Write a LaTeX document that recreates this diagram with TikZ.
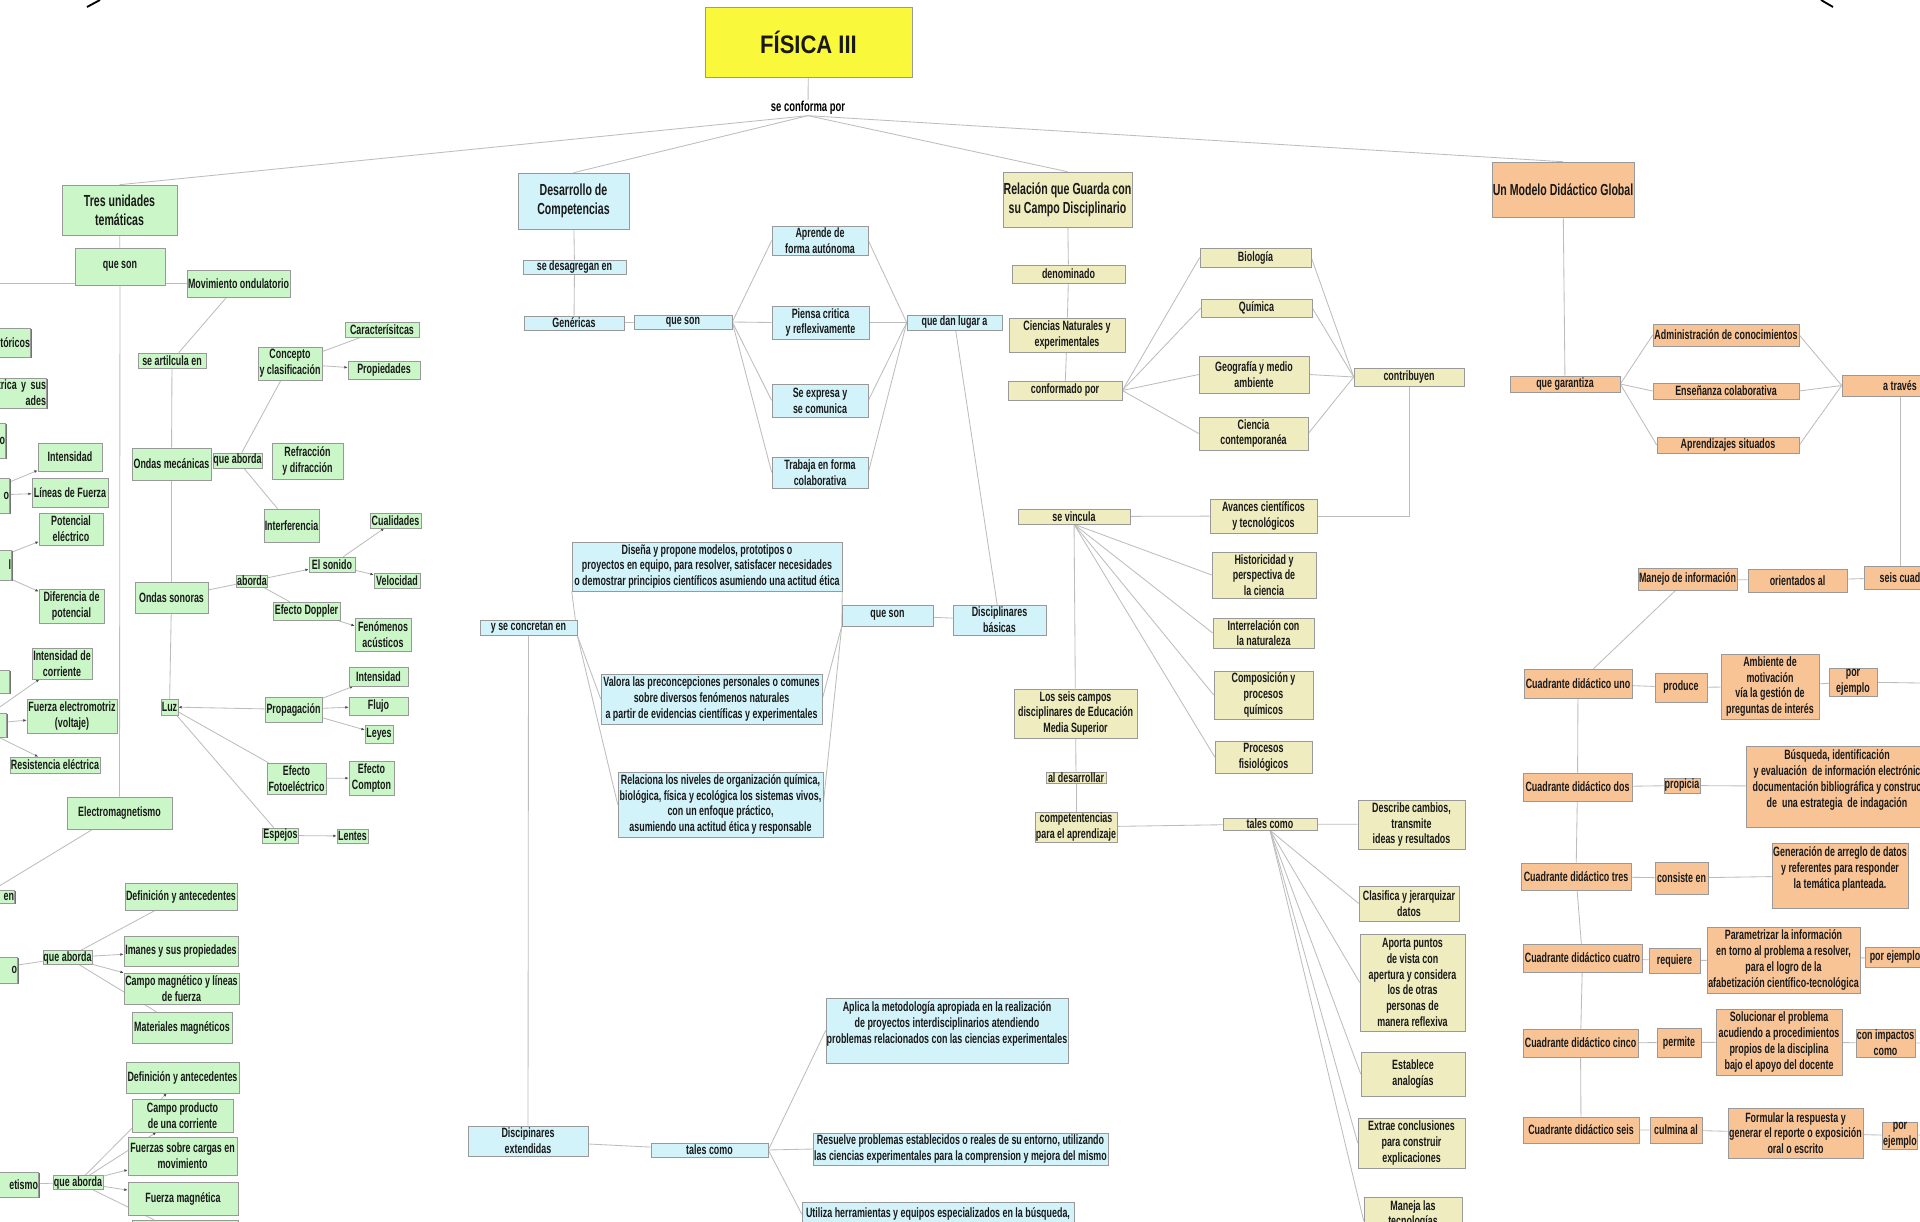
\documentclass[tikz,border=0pt]{standalone}
\usepackage{fontspec}
\setmainfont[FakeStretch=0.66]{Liberation Sans}
\newfontfamily\titlefont[FakeStretch=0.87]{Liberation Sans}
\usepackage{xcolor}
\usetikzlibrary{arrows.meta, shadows, backgrounds}
\definecolor{greenbox}{HTML}{CBF7C8}
\definecolor{bluebox}{HTML}{D3F3FA}
\definecolor{khakibox}{HTML}{EFECC0}
\definecolor{orangebox}{HTML}{F8C496}
\definecolor{titleyellow}{HTML}{FAF83A}
\definecolor{linkgray}{HTML}{BDBDBD}

\begin{document}
\begin{tikzpicture}[
            x=0.025cm, y=-0.025cm,
            box/.style={
                draw=black!40,
                rectangle,
                align=center,
                inner sep=0.5pt,
                line width=0.4pt,
                text=black!90,
                font=\bfseries\fontsize{9.6pt}{11.2pt}\selectfont,
                drop shadow={shadow xshift=0.6pt, shadow yshift=-0.6pt, fill=black!55, opacity=1}
            },
            wh/.style 2 args={minimum width=#1*0.025cm, minimum height=#2*0.025cm},
            gbox/.style={box, fill=greenbox},
            bbox/.style={box, fill=bluebox},
            kbox/.style={box, fill=khakibox},
            obox/.style={box, fill=orangebox},
            big/.style={font=\bfseries\fontsize{11.4pt}{13.5pt}\selectfont},
            titlebox/.style={box, fill=titleyellow, font=\titlefont\bfseries\fontsize{18pt}{20pt}\selectfont},
            plaintext/.style={inner sep=0.5pt, align=center, font=\bfseries\fontsize{10.2pt}{12pt}\selectfont},
            cutl/.style={anchor=east, text width=1.6cm, align=right},
            lnk/.style={draw=linkgray, line width=0.6pt},
            lnkarr/.style={lnk, -{Latex[length=2.4pt, width=2pt, color=black!70]}}
        ]
        \useasboundingbox (0,0) rectangle (1920,1222);

        \node[titlebox, wh={207}{70}] (fisica)   at (808.5,42)  {FÍSICA III};
        \node[plaintext]              (conforma) at (808,108)   {se conforma por};

        \node[gbox, big, wh={115}{50}] (tres)     at (119.5,210)  {Tres unidades\\temáticas};
        \node[gbox, wh={90}{37}]   (queson1)  at (120,266.5)  {que son};
        \node[gbox, wh={103}{27}]  (movond)   at (238.5,283.5) {Movimiento ondulatorio};
        \node[gbox, wh={68}{15}]   (seart)    at (172,360.5)  {se artilcula en};
        \node[gbox, wh={64}{33}]   (concepto) at (290,363.5)  {Concepto\\y clasificación};
        \node[gbox, wh={74}{15}]   (caract)   at (382,329.5)  {Caracterísitcas};
        \node[gbox, wh={72}{18}]   (propied)  at (384,370)    {Propiedades};
        \node[gbox, cutl, wh={0}{29}] (cuthist)  at (31,342.5) {tóricos};
        \node[gbox, cutl, wh={0}{30}] (cutcarga) at (47,393)   {trica y sus\\ades};
        \node[gbox, cutl, wh={0}{35}] (cuta)     at (6,440.5)  {o};
        \node[gbox, cutl, wh={0}{35}] (cutb)     at (10,495.5) {o};
        \node[gbox, cutl, wh={0}{30}] (cutc)     at (12,565)   {l};
        \node[gbox, cutl, wh={0}{23}] (cutd)     at (10,681.5) {};
        \node[gbox, cutl, wh={0}{24}] (cute)     at (7,725)    {};
        \node[gbox, wh={64}{28}]   (intens1)  at (70,457)     {Intensidad};
        \node[gbox, wh={76}{29}]   (lineas)   at (70,492.5)   {Líneas de Fuerza};
        \node[gbox, wh={64}{32}]   (potenc)   at (71,529)     {Potencial\\eléctrico};
        \node[gbox, wh={65}{34}]   (difer)    at (71.5,606)   {Diferencia de\\potencial};
        \node[gbox, wh={60}{31}]   (intcorr)  at (62,663.5)   {Intensidad de\\corriente};
        \node[gbox, wh={90}{34}]   (fem)      at (72,716)     {Fuerza electromotriz\\(voltaje)};
        \node[gbox, wh={90}{16}]   (resist)   at (55,765)     {Resistencia eléctrica};
        \node[gbox, wh={79}{32}]   (ondmec)   at (171.5,464)  {Ondas mecánicas};
        \node[gbox, wh={49}{15}]   (quea1)    at (237.5,460.5) {que aborda};
        \node[gbox, wh={71}{36}]   (refrac)   at (307.5,461)  {Refracción\\y difracción};
        \node[gbox, wh={55}{33}]   (interf)   at (291.5,525.5) {Interferencia};
        \node[gbox, wh={73}{31}]   (ondson)   at (171.5,597.5) {Ondas sonoras};
        \node[gbox, wh={30}{12}]   (aborda)   at (252,581)    {aborda};
        \node[gbox, wh={46}{15}]   (sonido)   at (332,564.5)  {El sonido};
        \node[gbox, wh={51}{15}]   (cualid)   at (395.5,520.5) {Cualidades};
        \node[gbox, wh={46}{15}]   (veloc)    at (397,580.5)  {Velocidad};
        \node[gbox, wh={67}{18}]   (doppler)  at (306.5,611)  {Efecto Doppler};
        \node[gbox, wh={56}{33}]   (fenom)    at (383,634.5)  {Fenómenos\\acústicos};
        \node[gbox, wh={17}{16}]   (luz)      at (169.5,707)  {Luz};
        \node[gbox, wh={57}{25}]   (propag)   at (293.5,709.5) {Propagación};
        \node[gbox, wh={59}{19}]   (intens2)  at (378.5,676.5) {Intensidad};
        \node[gbox, wh={59}{18}]   (flujo)    at (378.5,706)  {Flujo};
        \node[gbox, wh={28}{18}]   (leyes)    at (379,734)    {Leyes};
        \node[gbox, wh={59}{31}]   (fotoel)   at (296.5,778.5) {Efecto\\Fotoeléctrico};
        \node[gbox, wh={45}{34}]   (compton)  at (371.5,778)  {Efecto\\Compton};
        \node[gbox, wh={35}{15}]   (espejos)  at (280.5,835.5) {Espejos};
        \node[gbox, wh={31}{14}]   (lentes)   at (352.5,836)  {Lentes};
        \node[gbox, wh={105}{32}]  (electro)  at (119.5,813)  {Electromagnetismo};
        \node[gbox, cutl, wh={0}{13}] (cutf)     at (15,896.5) {en};
        \node[gbox, cutl, wh={0}{26}] (cutg)     at (18,970)   {o};
        \node[gbox, wh={49}{11}]   (quea2)    at (67.5,957.5) {que aborda};
        \node[gbox, wh={112}{27}]  (defant1)  at (181,896.5)  {Definición y antecedentes};
        \node[gbox, wh={114}{30}]  (imanes)   at (181,951)    {Imanes y sus propiedades};
        \node[gbox, wh={115}{31}]  (campomag) at (181.5,988.5) {Campo magnético y líneas\\de fuerza};
        \node[gbox, wh={100}{31}]  (materiales) at (182,1027.5) {Materiales magnéticos};
        \node[gbox, cutl, wh={0}{25}] (cuth)     at (39,1184.5) {etismo};
        \node[gbox, wh={50}{13}]   (quea3)    at (78,1182.5)  {que aborda};
        \node[gbox, wh={113}{31}]  (defant2)  at (182.5,1077.5) {Definición y antecedentes};
        \node[gbox, wh={101}{33}]  (campoprod) at (182.5,1115.5) {Campo producto\\de una corriente};
        \node[gbox, wh={109}{38}]  (fuerzas)  at (182.5,1156)  {Fuerzas sobre cargas en\\movimiento};
        \node[gbox, wh={110}{33}]  (fuerzamag) at (183,1198.5) {Fuerza magnética};
        \node[gbox, wh={106}{30}]  (lastg)    at (185,1235)   {};

        \node[bbox, big, wh={111}{56}] (desarr) at (573.5,201) {Desarrollo de\\Competencias};
        \node[bbox, wh={103}{14}]  (desag)    at (574.5,267)  {se desagregan en};
        \node[bbox, wh={100}{14}]  (generic)  at (574,323)    {Genéricas};
        \node[bbox, wh={98}{14}]   (queson2)  at (683,322)    {que son};
        \node[bbox, wh={96}{29}]   (aprende)  at (820,240.5)  {Aprende de\\forma autónoma};
        \node[bbox, wh={97}{33}]   (piensa)   at (820.5,322.5) {Piensa critica\\y reflexivamente};
        \node[bbox, wh={96}{33}]   (expresa)  at (820,400.5)  {Se expresa y\\se comunica};
        \node[bbox, wh={96}{31}]   (trabaja)  at (820,472.5)  {Trabaja en forma\\colaborativa};
        \node[bbox, wh={95}{15}]   (danlugar) at (954.5,322.5) {que dan lugar a};
        \node[bbox, wh={97}{15}]   (concretan) at (528.5,627.5) {y se concretan en};
        \node[bbox, wh={270}{49}]  (disena)   at (707,566.5)  {Diseña y propone modelos, prototipos o\\proyectos en equipo, para resolver, satisfacer necesidades\\o demostrar principios científicos asumiendo una actitud ética};
        \node[bbox, wh={91}{21}]   (queson3)  at (887.5,615.5) {que son};
        \node[bbox, wh={93}{30}]   (discbas)  at (999.5,620)  {Disciplinares\\básicas};
        \node[bbox, wh={221}{50}]  (valora)   at (711.5,699)  {Valora las preconcepciones personales o comunes\\sobre diversos fenómenos naturales\\a partir de evidencias científicas y experimentales};
        \node[bbox, wh={205}{65}]  (relaciona) at (720.5,804.5) {Relaciona los niveles de organización química,\\biológica, física y ecológica los sistemas vivos,\\con un enfoque práctico,\\asumiendo una actitud ética y responsable};
        \node[bbox, wh={120}{30}]  (discext)  at (528,1141)   {Discipinares\\extendidas};
        \node[bbox, wh={117}{14}]  (tales1)   at (709.5,1150) {tales como};
        \node[bbox, wh={242}{65}]  (aplica)   at (947,1030.5) {Aplica la metodología apropiada en la realización\\de proyectos interdisciplinarios atendiendo\\problemas relacionados con las ciencias experimentales\\\mbox{}};
        \node[bbox, wh={295}{32}]  (resuelve) at (960.5,1149) {Resuelve problemas establecidos o reales de su entorno, utilizando\\las ciencias experimentales para la comprension y mejora del mismo};
        \node[bbox, wh={272}{24}]  (utiliza)  at (938,1214)   {Utiliza herramientas y equipos especializados en la búsqueda,};

        \node[kbox, big, wh={125}{55}] (relacion) at (1067.5,199.5) {Relación que Guarda con\\su Campo Disciplinario};
        \node[kbox, wh={113}{18}]  (denom)    at (1068.5,274) {denominado};
        \node[kbox, wh={116}{34}]  (ciencias) at (1067,335)   {Ciencias Naturales y\\experimentales};
        \node[kbox, wh={114}{19}]  (conformado) at (1065,390.5) {conformado por};
        \node[kbox, wh={111}{19}]  (bio)      at (1255.5,257.5) {Biología};
        \node[kbox, wh={111}{18}]  (quim)     at (1256.5,308) {Química};
        \node[kbox, wh={110}{37}]  (geo)      at (1254,374.5) {Geografía y medio\\ambiente};
        \node[kbox, wh={109}{33}]  (cienciac) at (1253.5,433.5) {Ciencia\\contemporanéa};
        \node[kbox, wh={110}{18}]  (contrib)  at (1409,377)   {contribuyen};
        \node[kbox, wh={112}{15}]  (vincula)  at (1074,516.5) {se vincula};
        \node[kbox, wh={107}{34}]  (avances)  at (1263.5,516) {Avances científicos\\y tecnológicos};
        \node[kbox, wh={104}{46}]  (histor)   at (1264,575)   {Historicidad y\\perspectiva de\\la ciencia};
        \node[kbox, wh={101}{30}]  (interrel) at (1263.5,633) {Interrelación con\\la naturaleza};
        \node[kbox, wh={99}{48}]   (compos)   at (1263.5,695) {Composición y\\procesos\\químicos};
        \node[kbox, wh={97}{32}]   (procfis)  at (1263.5,757) {Procesos\\fisiológicos};
        \node[kbox, wh={123}{49}]  (seiscamp) at (1075.5,713.5) {Los seis campos\\disciplinares de Educación\\Media Superior};
        \node[kbox, wh={60}{11}]   (aldes)    at (1076,777.5) {al desarrollar};
        \node[kbox, wh={82}{30}]   (compet)   at (1076,827)   {competentencias\\para el aprendizaje};
        \node[kbox, wh={94}{12}]   (tales2)   at (1270,824)   {tales como};
        \node[kbox, wh={107}{49}]  (describe) at (1411.5,824.5) {Describe cambios,\\transmite\\ideas y resultados};
        \node[kbox, wh={100}{35}]  (clasif)   at (1409,903.5) {Clasifica y jerarquizar\\datos};
        \node[kbox, wh={105}{97}]  (aporta)   at (1412.5,982.5) {Aporta puntos\\de vista con\\apertura y considera\\los de otras\\personas de\\manera reflexiva};
        \node[kbox, wh={104}{44}]  (establece) at (1413,1074) {Establece\\analogías};
        \node[kbox, wh={107}{50}]  (extrae)   at (1411.5,1143) {Extrae conclusiones\\para construir\\explicaciones};
        \node[kbox, wh={98}{48}]   (maneja)   at (1413,1221)  {Maneja las\\tecnologías\\\mbox{}};

        \node[obox, big, wh={138}{55}] (modelo) at (1563,189.5) {Un Modelo Didáctico Global};
        \node[obox, wh={110}{16}]  (garant)   at (1565,384)   {que garantiza};
        \node[obox, wh={146}{22}]  (admin)    at (1726,335)   {Administración de conocimientos};
        \node[obox, wh={146}{16}]  (ensen)    at (1726,391)   {Enseñanza colaborativa};
        \node[obox, wh={142}{16}]  (aprsit)   at (1728,445)   {Aprendizajes situados};
        \node[obox, wh={116}{21}]  (atraves)  at (1900,385.5) {a través};
        \node[obox, wh={99}{22}]   (manejo)   at (1687.5,579) {Manejo de información};
        \node[obox, wh={99}{23}]   (orient)   at (1797.5,580.5) {orientados al};
        \node[obox, wh={72}{23}]   (seiscuad) at (1900,577.5) {seis cuad};
        \node[obox, wh={108}{29}]  (cuad1)    at (1578,683.5) {Cuadrante didáctico uno};
        \node[obox, wh={52}{29}]   (produce)  at (1681,687.5) {produce};
        \node[obox, wh={98}{65}]   (ambiente) at (1770,686.5) {Ambiente de\\motivación\\vía la gestión de\\preguntas de interés};
        \node[obox, wh={48}{28}]   (porej1)   at (1853,682)   {por\\ejemplo};
        \node[obox, wh={109}{28}]  (cuad2)    at (1577.5,787) {Cuadrante didáctico dos};
        \node[obox, wh={36}{15}]   (propicia) at (1682,785.5) {propicia};
        \node[obox, wh={182}{81}]  (busqueda) at (1837,786.5) {Búsqueda, identificación\\y evaluación\ \ de información electrónic\\documentación bibliográfica y construc\\de\ \ una estrategia\ \ de indagación\\\mbox{}};
        \node[obox, wh={110}{27}]  (cuad3)    at (1576,876.5) {Cuadrante didáctico tres};
        \node[obox, wh={53}{32}]   (consiste) at (1681.5,878) {consiste en};
        \node[obox, wh={136}{65}]  (generac)  at (1840,875.5) {Generación de arreglo de datos\\y referentes para responder\\la temática planteada.\\\mbox{}};
        \node[obox, wh={119}{28}]  (cuad4)    at (1582.5,958) {Cuadrante didáctico cuatro};
        \node[obox, wh={51}{25}]   (requiere) at (1674.5,960.5) {requiere};
        \node[obox, wh={153}{66}]  (param)    at (1783.5,960) {Parametrizar la información\\en torno al problema a resolver,\\para el logro de la\\afabetización científico-tecnológica};
        \node[obox, wh={60}{20}]   (porej2)   at (1895,957)   {por ejemplo};
        \node[obox, wh={115}{28}]  (cuad5)    at (1580.5,1043) {Cuadrante didáctico cinco};
        \node[obox, wh={44}{29}]   (permite)  at (1679,1042.5) {permite};
        \node[obox, wh={126}{66}]  (soluc)    at (1779,1042)  {Solucionar el problema\\acudiendo a procedimientos\\propios de la disciplina\\bajo el apoyo del docente};
        \node[obox, wh={59}{28}]   (impactos) at (1885.5,1043) {con impactos\\como};
        \node[obox, wh={116}{26}]  (cuad6)    at (1581,1130)  {Cuadrante didáctico seis};
        \node[obox, wh={52}{26}]   (culmina)  at (1676,1130)  {culmina al};
        \node[obox, wh={135}{50}]  (formular) at (1795.5,1133) {Formular la respuesta y\\generar el reporte o exposición\\oral o escrito};
        \node[obox, wh={34}{27}]   (porej3)   at (1900,1135.5) {por\\ejemplo};

        \coordinate (lefte)   at (0,283.5);
        \coordinate (righte1) at (1920,683);
        \coordinate (righte2) at (1920,1043);
        \coordinate (righte3) at (1920,1135);

        \draw[line width=1.3pt] (100,0) -- (87,7);
        \draw[line width=1.3pt] (1821,0) -- (1833,7);

        \begin{scope}[on background layer]
        \fill[white] (0,0) rectangle (1920,1222);
        \draw[lnk] (fisica) -- (conforma);
        \foreach \n in {tres,desarr,relacion,modelo}
            \draw[lnk] (conforma.south) -- (\n.north);

        \draw[lnk] (tres) -- (queson1);
        \draw[lnk] (queson1) -- (electro);
        \draw[lnk] (lefte) -- (movond.west);
        \draw[lnk] (movond) -- (seart);
        \draw[lnk] (seart) -- (ondmec);
        \draw[lnk] (ondmec) -- (ondson);
        \draw[lnk] (ondson) -- (luz);
        \draw[lnk] (quea1) -- (concepto);
        \draw[lnk] (quea1) -- (interf);
        \draw[lnk] (concepto) -- (caract);
        \draw[lnkarr] (concepto) -- (propied);
        \draw[lnkarr] (cutb) -- (intens1);
        \draw[lnkarr] (cutb) -- (lineas);
        \draw[lnkarr] (cutc) -- (potenc);
        \draw[lnkarr] (cutc) -- (difer);
        \draw[lnkarr] (cute) -- (intcorr);
        \draw[lnkarr] (cute) -- (fem);
        \draw[lnkarr] (cute) -- (resist);
        \draw[lnk] (ondson) -- (aborda);
        \draw[lnkarr] (aborda) -- (sonido);
        \draw[lnk] (aborda) -- (doppler);
        \draw[lnkarr] (sonido) -- (cualid);
        \draw[lnkarr] (sonido) -- (veloc);
        \draw[lnkarr] (doppler) -- (fenom);
        \draw[lnkarr] (propag) -- (luz);
        \foreach \n in {intens2,flujo,leyes}
            \draw[lnkarr] (propag) -- (\n);
        \draw[lnk] (luz) -- (fotoel);
        \draw[lnk] (luz) -- (espejos);
        \draw[lnkarr] (fotoel) -- (compton);
        \draw[lnkarr] (espejos) -- (lentes);
        \draw[lnk] (electro) -- (cutf);
        \draw[lnk] (cutg) -- (quea2);
        \draw[lnk] (quea2) -- (defant1);
        \draw[lnkarr] (quea2) -- (imanes);
        \draw[lnkarr] (quea2) -- (campomag);
        \draw[lnk] (quea2) -- (materiales);
        \draw[lnk] (cuth) -- (quea3);
        \foreach \n in {defant2,campoprod,fuerzas,fuerzamag}
            \draw[lnkarr] (quea3) -- (\n);
        \draw[lnk] (quea3) -- (lastg);

        \draw[lnk] (desarr) -- (desag);
        \draw[lnk] (desag) -- (generic);
        \draw[lnk] (generic) -- (queson2);
        \foreach \n in {aprende,piensa,expresa,trabaja} {
            \draw[lnk] (queson2.east) -- (\n.west);
            \draw[lnk] (\n.east) -- (danlugar.west);
        }
        \draw[lnk] (danlugar) -- (discbas);
        \draw[lnk] (concretan.south east) -- (disena.south west);
        \draw[lnk] (concretan.south east) -- (valora.west);
        \draw[lnk] (concretan.south east) -- (relaciona.west);
        \draw[lnk] (disena.south east) -- (queson3.south west);
        \draw[lnk] (valora.east) -- (queson3.south west);
        \draw[lnk] (relaciona.east) -- (queson3.south west);
        \draw[lnk] (queson3) -- (discbas);
        \draw[lnk] (concretan) -- (discext);
        \draw[lnk] (discext) -- (tales1);
        \foreach \n in {aplica,resuelve,utiliza}
            \draw[lnk] (tales1.east) -- (\n.west);

        \draw[lnk] (relacion) -- (denom);
        \draw[lnk] (denom) -- (ciencias);
        \draw[lnk] (ciencias) -- (conformado);
        \foreach \n in {bio,quim,geo,cienciac} {
            \draw[lnk] (conformado.east) -- (\n.west);
            \draw[lnk] (\n.east) -- (contrib.west);
        }
        \draw[lnk] (contrib.south) |- (avances.east);
        \draw[lnk] (vincula) -- (avances);
        \foreach \n in {histor,interrel,compos,procfis}
            \draw[lnk] (vincula.south) -- (\n.west);
        \draw[lnk] (vincula) -- (seiscamp);
        \draw[lnk] (seiscamp) -- (aldes);
        \draw[lnk] (aldes) -- (compet);
        \draw[lnk] (compet) -- (tales2);
        \draw[lnk] (tales2) -- (describe);
        \foreach \n in {clasif,aporta,establece,extrae,maneja}
            \draw[lnk] (tales2.south) -- (\n.west);

        \draw[lnk] (modelo) -- (garant);
        \foreach \n in {admin,ensen,aprsit} {
            \draw[lnk] (garant.east) -- (\n.west);
            \draw[lnk] (\n.east) -- (atraves.west);
        }
        \draw[lnk] (atraves) -- (seiscuad);
        \draw[lnk] (seiscuad) -- (orient);
        \draw[lnk] (orient) -- (manejo);
        \draw[lnk] (manejo) -- (cuad1);
        \draw[lnk] (cuad1) -- (cuad2);
        \draw[lnk] (cuad2) -- (cuad3);
        \draw[lnk] (cuad3) -- (cuad4);
        \draw[lnk] (cuad4) -- (cuad5);
        \draw[lnk] (cuad5) -- (cuad6);
        \draw[lnk] (cuad1) -- (produce) -- (ambiente) -- (porej1) -- (righte1);
        \draw[lnk] (cuad2) -- (propicia) -- (busqueda);
        \draw[lnk] (cuad3) -- (consiste) -- (generac);
        \draw[lnk] (cuad4) -- (requiere) -- (param) -- (porej2);
        \draw[lnk] (cuad5) -- (permite) -- (soluc) -- (impactos) -- (righte2);
        \draw[lnk] (cuad6) -- (culmina) -- (formular) -- (porej3) -- (righte3);
        \end{scope}
\end{tikzpicture}
\end{document}
